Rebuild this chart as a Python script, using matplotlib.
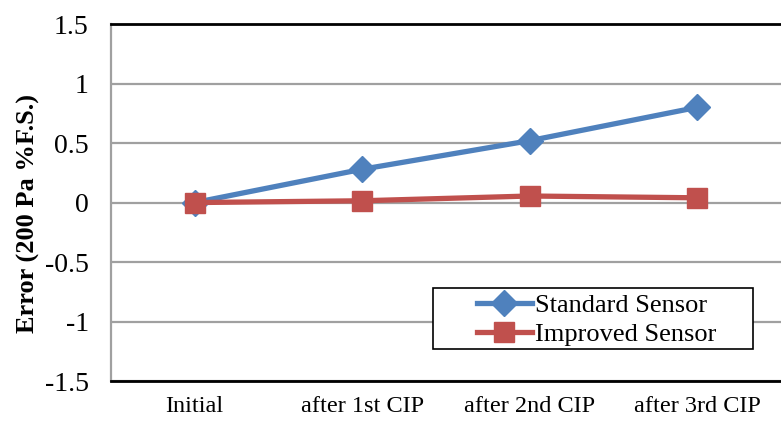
import matplotlib.pyplot as plt
from matplotlib.patches import Rectangle

categories = ['Initial', 'after 1st CIP', 'after 2nd CIP', 'after 3rd CIP']
standard = [0.0, 0.28, 0.52, 0.80]
improved = [0.0, 0.015, 0.055, 0.04]
yticks = [-1.5, -1, -0.5, 0, 0.5, 1, 1.5]
ytick_labels = ['-1.5', '-1', '-0.5', '0', '0.5', '1', '1.5']

plt.rcParams['font.family'] = ['Liberation Serif', 'DejaVu Serif']

fig = plt.figure(figsize=(7.81, 4.22), dpi=100)
ax = fig.add_axes([0.142, 0.097, 0.858, 0.846])

x = range(len(categories))
ax.plot(x, standard, color='#4F81BD', lw=3.8, marker='D', ms=13.5,
        label='Standard Sensor', zorder=3)
ax.plot(x, improved, color='#C0504D', lw=3.8, marker='s', ms=15,
        label='Improved Sensor', zorder=4)

ax.set_xlim(-0.5, 3.5)
ax.set_ylim(-1.5, 1.5)
ax.set_xticks(list(x))
ax.set_xticklabels(categories, fontsize=17.5)
ax.set_yticks(yticks)
ax.set_yticklabels(ytick_labels, fontsize=20)
ax.tick_params(axis='both', length=0)
ax.tick_params(axis='y', pad=16)
ax.tick_params(axis='x', pad=11)

ax.yaxis.grid(True, color='#A0A0A0', lw=1.6)
ax.set_axisbelow(True)
ax.spines['left'].set_color('#A0A0A0')
ax.spines['left'].set_linewidth(1.6)
ax.spines['top'].set_linewidth(2)
ax.spines['bottom'].set_linewidth(2)
ax.spines['right'].set_visible(False)

ax.set_ylabel('Error (200 Pa %F.S.)', fontsize=19, fontweight='bold')
ax.yaxis.set_label_coords(-0.106, 0.47)

# legend box drawn separately, it has wide side padding
ax.add_patch(Rectangle((0.4806, 0.0896), 0.4776, 0.1709, transform=ax.transAxes,
                       facecolor='white', edgecolor='black', lw=1.2, zorder=5))
leg = ax.legend(loc='center left', bbox_to_anchor=(0.546, 0.171), fontsize=19,
                frameon=False, handlelength=2.1, handletextpad=0.1,
                borderpad=0, labelspacing=0.2, borderaxespad=0)
leg.set_zorder(6)

fig.savefig('out.png', dpi=100)
